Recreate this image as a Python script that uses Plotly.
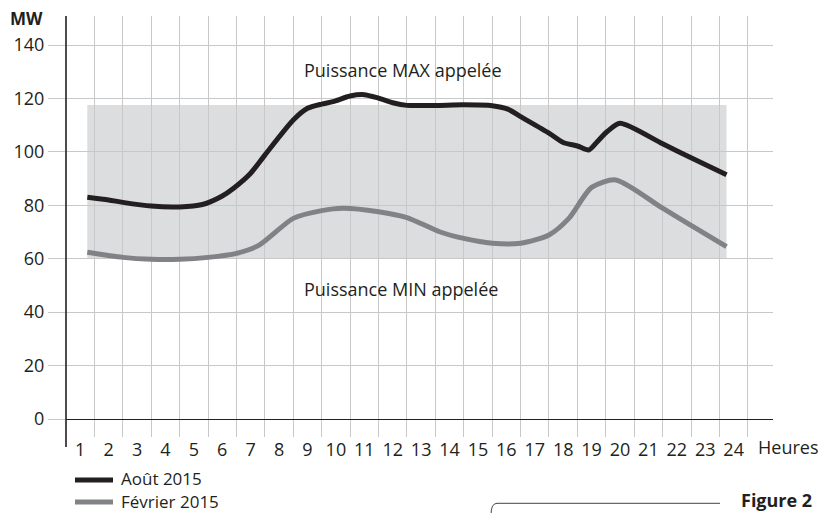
import plotly.graph_objects as go

# heures (axe) et puissances
heures = list(range(1, 25))
aout_h = [1.25, 2.0, 2.5, 3.5, 4.5, 5.3, 6.0, 6.4, 7.0, 7.5, 8.5, 9.0, 9.5, 9.9, 10.5, 11.0,
          11.5, 12.0, 12.5, 13.5, 14.5, 15.5, 16.05, 16.5, 17.5, 18.0, 18.5, 18.9, 19.2,
          19.55, 20.0, 21.5, 22.5, 23.75]
aout_mw = [83.0, 82.0, 81.1, 79.7, 79.4, 80.3, 83.5, 86.4, 92.0, 98.8, 111.9, 116.3, 117.9,
           118.8, 120.9, 121.4, 120.1, 118.4, 117.4, 117.4, 117.6, 117.3, 116.0, 113.2,
           107.0, 103.5, 102.2, 100.7, 103.8, 107.6, 110.7, 103.0, 97.8, 91.4]
fevrier_h = [1.25, 2.5, 3.5, 4.5, 5.5, 6.5, 7.3, 8.5, 9.5, 10.25, 11.5, 12.5, 13.65, 14.5,
             15.5, 16.5, 17.5, 18.2, 19.0, 19.85, 21.5, 22.5, 23.75]
fevrier_mw = [62.4, 60.5, 59.8, 59.8, 60.5, 62.0, 65.1, 75.1, 78.0, 78.9, 77.6, 75.4, 70.1,
              67.6, 65.8, 65.8, 68.9, 75.1, 86.7, 89.5, 78.9, 72.5, 64.5]
puissance_min = 60
puissance_max = 117.5
y_ticks = [0, 20, 40, 60, 80, 100, 120, 140]

NOIR = "#231f20"
GRIS = "#808285"
GRILLE = "#c8c8c8"
FONT = "Open Sans"

W, H = 818, 513
L, R, T, B = 66, 45, 16, 76
pw, ph = W - L - R, H - T - B


def px(x):
    return (x - L) / pw


def py(y):
    return (H - B - y) / ph


def texte(txt, x, y, size=18, anchor="center", ref="paper"):
    fig.add_annotation(x=x, y=y, xref=ref if ref == "paper" else "x",
                       yref=ref if ref == "paper" else "y", text=txt, showarrow=False,
                       xanchor=anchor, yanchor="middle",
                       font=dict(family=FONT, size=size, color=NOIR))


fig = go.Figure()
fig.add_trace(go.Scatter(x=aout_h, y=aout_mw, mode="lines", name="Août 2015",
                         line=dict(color=NOIR, width=5, shape="spline", smoothing=0.7)))
fig.add_trace(go.Scatter(x=fevrier_h, y=fevrier_mw, mode="lines", name="Février 2015",
                         line=dict(color=GRIS, width=5, shape="spline", smoothing=0.7)))

# zone grise entre puissance min et max
fig.add_shape(type="rect", xref="x", yref="y", x0=aout_h[0], x1=aout_h[-1],
              y0=puissance_min, y1=puissance_max, fillcolor="#dcdddf",
              line=dict(width=0), layer="below")

# axe vertical prolongé sous l'axe horizontal
fig.add_shape(type="line", xref="paper", yref="paper", x0=0, x1=0, y0=py(447), y1=1,
              line=dict(color=NOIR, width=1.6))

texte("Puissance MAX appelée", 12.35, 130.7, ref="data")
texte("Puissance MIN appelée", 12.3, 48.7, ref="data")
texte("<b>MW</b>", px(26), py(18), size=17)
texte("Heures", px(756), py(447), anchor="left")

# légende
for i, (nom, coul) in enumerate([("Août 2015", NOIR), ("Février 2015", GRIS)]):
    yy = 480 + i * 22
    fig.add_shape(type="line", xref="paper", yref="paper", x0=px(75), x1=px(113),
                  y0=py(yy), y1=py(yy), line=dict(color=coul, width=5))
    texte(nom, px(119), py(yy - 1), size=17, anchor="left")

# Figure 2
x0, x1, x2 = px(491), px(497), px(720)
ya, yb = py(503.3), py(515)
fig.add_shape(type="path", xref="paper", yref="paper",
              path=f"M {x0},{yb} Q {x0},{ya} {x1},{ya} L {x2},{ya}",
              line=dict(color="#444444", width=1))
texte("<b>Figure 2</b>", px(814), py(500), anchor="right")

fig.update_xaxes(range=[0.5, 0.5 + pw / 28.41], tickvals=heures,
                 ticktext=[str(h) for h in heures], showgrid=False, zeroline=False,
                 showline=False, ticks="",
                 minor=dict(tickvals=[h + 0.5 for h in heures], showgrid=True,
                            gridcolor=GRILLE, gridwidth=1.3),
                 tickfont=dict(family=FONT, size=18, color=NOIR))
fig.update_yaxes(range=[-6.74, 150.86], tickvals=y_ticks, showgrid=True, gridcolor=GRILLE,
                 gridwidth=1.3, zeroline=True, zerolinecolor=NOIR, zerolinewidth=1.4,
                 showline=False, ticks="outside", ticklen=17, tickcolor=GRILLE, tickwidth=1.3,
                 tickfont=dict(family=FONT, size=18, color=NOIR))
fig.update_layout(width=W, height=H, margin=dict(l=L, r=R, t=T, b=B),
                  plot_bgcolor="white", paper_bgcolor="white", showlegend=False)
fig.write_html("out.html", config={"displayModeBar": False},
               post_script="document.body.style.margin='0';")
